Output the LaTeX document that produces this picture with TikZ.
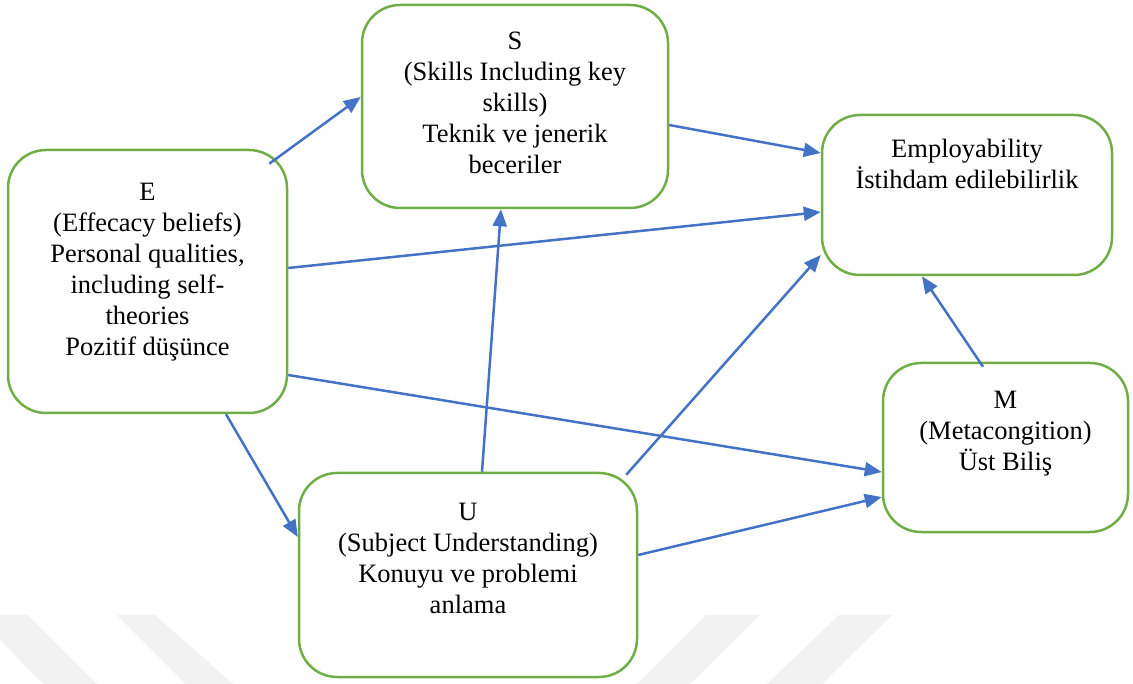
\documentclass[tikz,border=0pt]{standalone}
\usepackage{fontspec}
\setmainfont{Liberation Serif}
\usepackage{tikz}
\usetikzlibrary{arrows.meta}
\definecolor{boxgreen}{HTML}{70AD47}
\definecolor{arrblue}{HTML}{4472C4}
\definecolor{wmark}{HTML}{F2F2F2}
\tikzstyle{box} = [draw=boxgreen, line width=2.5pt, rounded corners=38pt, inner sep=0pt, fill=white]
\tikzstyle{txt} = [anchor=north, align=center, inner sep=0pt, font=\fontsize{26.5}{31}\selectfont]
\tikzstyle{arr} = [draw=arrblue, line width=2.5pt, -{Triangle[length=17pt,width=14pt]}]

\begin{document}
\begin{tikzpicture}[x=1pt, y=-1pt]
	\useasboundingbox (0,0) rectangle (1133,684);
	% faint stripes at the bottom
	\fill[wmark] (0,640) -- (0,615) -- (28,615) -- (97,684) -- (43,684) -- cycle;
	\fill[wmark] (117,615) -- (155,615) -- (233,684) -- (186,684) -- cycle;
	\fill[wmark] (706,615) -- (760,615) -- (690,684) -- (637,684) -- cycle;
	\fill[wmark] (839,615) -- (892,615) -- (822,684) -- (767,684) -- cycle;

	% boxes
	\node[box, minimum width=306pt, minimum height=203pt] (bS) at (515,106.5) {};
	\node[box, minimum width=290pt, minimum height=160pt] (bEmp) at (967,195) {};
	\node[box, minimum width=279pt, minimum height=263pt] (bE) at (147.5,281.5) {};
	\node[box, minimum width=245pt, minimum height=169pt] (bM) at (1005.5,447.5) {};
	\node[box, minimum width=338pt, minimum height=204pt] (bU) at (468,575) {};

	% texts
	\node[txt] (tS) at ([yshift=-28pt]bS.north) {S\\(Skills Including key\\skills)\\Teknik ve jenerik\\beceriler};
	\node[txt] (tEmp) at ([yshift=-25pt]bEmp.north) {Employability\\İstihdam edilebilirlik};
	\node[txt] (tE) at ([yshift=-34pt]bE.north) {E\\(Effecacy beliefs)\\Personal qualities,\\including self-\\theories\\Pozitif düşünce};
	\node[txt] (tM) at ([yshift=-29pt]bM.north) {M\\(Metacongition)\\Üst Biliş};
	\node[txt] (tU) at ([yshift=-31pt]bU.north) {U\\(Subject Understanding)\\Konuyu ve problemi\\anlama};

	% arrows
	\draw[arr] ([xshift=-19pt,yshift=-15pt]bE.north east) -- ([yshift=9.5pt]bS.west);
	\draw[arr] ([yshift=-18.5pt]bS.east) -- ([yshift=42pt]bEmp.west);
	\draw[arr] ([yshift=13.5pt]bE.east) -- ([yshift=-17pt]bEmp.west);
	\draw[arr] ([yshift=-93.5pt]bE.east) -- ([yshift=-24.5pt]bM.west);
	\draw[arr] ([xshift=78.5pt]bE.south) -- ([yshift=38pt]bU.west);
	\draw[arr] ([xshift=14pt]bU.north) -- ([xshift=-14pt]bS.south);
	\draw[arr] ([xshift=-12pt,yshift=-3pt]bU.north east) -- ([yshift=-60pt]bEmp.west);
	\draw[arr] ([yshift=20pt]bU.east) -- ([yshift=-49.5pt]bM.west);
	\draw[arr] ([xshift=-22.5pt,yshift=-5pt]bM.north) -- ([xshift=-45pt]bEmp.south);
\end{tikzpicture}
\end{document}
